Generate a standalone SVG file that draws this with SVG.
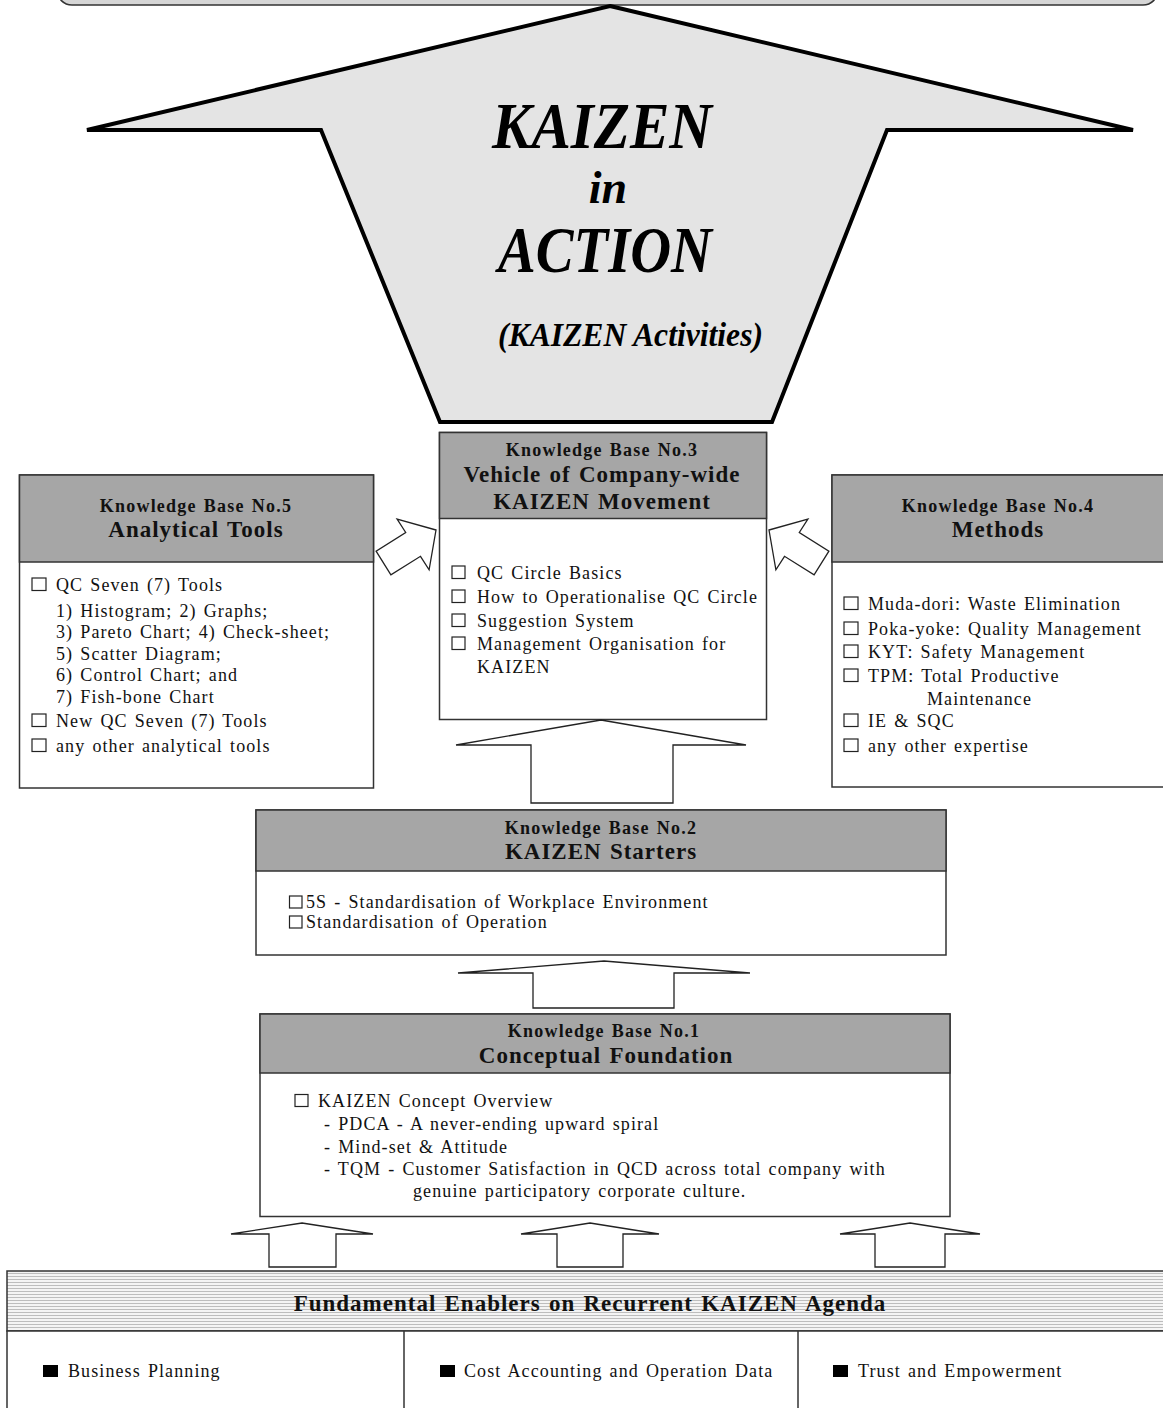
<svg xmlns="http://www.w3.org/2000/svg" width="1163" height="1408" viewBox="0 0 1163 1408">
<style>
.box{fill:#fff;stroke:#333;stroke-width:1.5}
.hdr{fill:#a6a6a6;stroke:#333;stroke-width:1.5}
.kb{font-family:"Liberation Serif","Times New Roman",serif;font-weight:bold;font-size:18px;letter-spacing:1.2px;word-spacing:1.5px;text-anchor:middle;fill:#111}
.ttl{font-family:"Liberation Serif","Times New Roman",serif;font-weight:bold;font-size:23px;letter-spacing:1px;word-spacing:1.5px;text-anchor:middle;fill:#111}
.t{font-family:"Liberation Serif","Times New Roman",serif;font-size:18px;letter-spacing:1.1px;word-spacing:1.5px;fill:#111}
.cb{fill:none;stroke:#222;stroke-width:1.2}
.fb{fill:#000}
.arr{fill:#fff;stroke:#222;stroke-width:1.3;stroke-linejoin:miter}
.big{font-family:"Liberation Serif","Times New Roman",serif;font-weight:bold;font-style:italic;fill:#000}
</style>
<defs>
<pattern id="stripes" width="8" height="3" patternUnits="userSpaceOnUse">
<rect width="8" height="3" fill="#f4f4f4"/>
<rect y="1" width="8" height="1" fill="#bdbdbd"/>
</pattern>
</defs>

<g id="top-banner">
<rect x="57" y="-30" width="1101" height="35" rx="15" fill="#d6d6d6" stroke="#333" stroke-width="1.5"/>
</g>

<g id="kaizen-in-action">
<polygon points="610,6 1133,130 887,130 772,422 440,422 321,130 87,130" fill="#e4e4e4" stroke="#000" stroke-width="4" stroke-linejoin="miter"/>
<text class="big" x="492" y="148" font-size="66" textLength="220" lengthAdjust="spacingAndGlyphs">KAIZEN</text>
<text class="big" x="608" y="203" font-size="46" text-anchor="middle">in</text>
<text class="big" x="498" y="272" font-size="66" textLength="214" lengthAdjust="spacingAndGlyphs">ACTION</text>
<text class="big" x="498" y="346" font-size="34" font-weight="normal" textLength="265" lengthAdjust="spacingAndGlyphs">(KAIZEN Activities)</text>
</g>

<g id="kb3">
<rect class="box" x="439.5" y="432.5" width="327" height="287"/>
<rect class="hdr" x="439.5" y="432.5" width="327" height="86"/>
<text class="kb" x="602" y="456">Knowledge Base No.3</text>
<text class="ttl" x="602" y="482">Vehicle of Company-wide</text>
<text class="ttl" x="602" y="509">KAIZEN Movement</text>
<rect class="cb" x="452" y="566" width="13" height="12.5"/>
<text class="t" x="477" y="579">QC Circle Basics</text>
<rect class="cb" x="452" y="590" width="13" height="12.5"/>
<text class="t" x="477" y="603">How to Operationalise QC Circle</text>
<rect class="cb" x="452" y="614" width="13" height="12.5"/>
<text class="t" x="477" y="627">Suggestion System</text>
<rect class="cb" x="452" y="637" width="13" height="12.5"/>
<text class="t" x="477" y="650">Management Organisation for</text>
<text class="t" x="477" y="673">KAIZEN</text>
</g>

<g id="kb5">
<rect class="box" x="19.5" y="475" width="354" height="313"/>
<rect class="hdr" x="19.5" y="475" width="354" height="87"/>
<text class="kb" x="196" y="512">Knowledge Base No.5</text>
<text class="ttl" x="196" y="537">Analytical Tools</text>
<rect class="cb" x="32" y="578" width="14" height="12.5"/>
<text class="t" x="56" y="591">QC Seven (7) Tools</text>
<text class="t" x="56" y="617">1) Histogram; 2) Graphs;</text>
<text class="t" x="56" y="638">3) Pareto Chart; 4) Check-sheet;</text>
<text class="t" x="56" y="660">5) Scatter Diagram;</text>
<text class="t" x="56" y="681">6) Control Chart; and</text>
<text class="t" x="56" y="703">7) Fish-bone Chart</text>
<rect class="cb" x="32" y="714" width="14" height="12.5"/>
<text class="t" x="56" y="727">New QC Seven (7) Tools</text>
<rect class="cb" x="32" y="739" width="14" height="12.5"/>
<text class="t" x="56" y="752">any other analytical tools</text>
</g>

<g id="kb4">
<rect class="box" x="832" y="475" width="340" height="312"/>
<rect class="hdr" x="832" y="475" width="340" height="87"/>
<text class="kb" x="998" y="512">Knowledge Base No.4</text>
<text class="ttl" x="998" y="537">Methods</text>
<rect class="cb" x="844" y="597" width="14" height="12.5"/>
<text class="t" x="868" y="610">Muda-dori: Waste Elimination</text>
<rect class="cb" x="844" y="622" width="14" height="12.5"/>
<text class="t" x="868" y="635">Poka-yoke: Quality Management</text>
<rect class="cb" x="844" y="645" width="14" height="12.5"/>
<text class="t" x="868" y="658">KYT:  Safety Management</text>
<rect class="cb" x="844" y="669" width="14" height="12.5"/>
<text class="t" x="868" y="682">TPM: Total Productive</text>
<text class="t" x="927" y="705">Maintenance</text>
<rect class="cb" x="844" y="714" width="14" height="12.5"/>
<text class="t" x="868" y="727">IE &amp; SQC</text>
<rect class="cb" x="844" y="739" width="14" height="12.5"/>
<text class="t" x="868" y="752">any other expertise</text>
</g>

<g id="kb2">
<rect class="box" x="256" y="810" width="690" height="145"/>
<rect class="hdr" x="256" y="810" width="690" height="61"/>
<text class="kb" x="601" y="834">Knowledge Base No.2</text>
<text class="ttl" x="601" y="859">KAIZEN Starters</text>
<rect class="cb" x="289.5" y="896" width="12.5" height="12"/>
<text class="t" x="306" y="908">5S - Standardisation of Workplace Environment</text>
<rect class="cb" x="289.5" y="916" width="12.5" height="12"/>
<text class="t" x="306" y="928">Standardisation of Operation</text>
</g>

<g id="kb1">
<rect class="box" x="260" y="1014" width="690" height="202.5"/>
<rect class="hdr" x="260" y="1014" width="690" height="59"/>
<text class="kb" x="604" y="1037">Knowledge Base No.1</text>
<text class="ttl" x="606" y="1063">Conceptual Foundation</text>
<rect class="cb" x="295" y="1094.5" width="13" height="12"/>
<text class="t" x="318" y="1107">KAIZEN  Concept Overview</text>
<text class="t" x="324" y="1130">-  PDCA - A never-ending upward  spiral</text>
<text class="t" x="324" y="1153">-  Mind-set &amp; Attitude</text>
<text class="t" x="324" y="1175">-  TQM  - Customer Satisfaction in QCD across total company with</text>
<text class="t" x="413" y="1197">genuine  participatory corporate culture.</text>
</g>

<g id="enablers">
<rect x="7" y="1271" width="1170" height="60" fill="url(#stripes)" stroke="#333" stroke-width="1.5"/>
<rect x="7" y="1331" width="1170" height="90" fill="#fff" stroke="#333" stroke-width="1.5"/>
<line x1="404" y1="1331" x2="404" y2="1408" stroke="#333" stroke-width="1.5"/>
<line x1="798" y1="1331" x2="798" y2="1408" stroke="#333" stroke-width="1.5"/>
<text class="ttl" x="590" y="1311" font-size="22" letter-spacing="1.2" word-spacing="7">Fundamental Enablers on Recurrent KAIZEN Agenda</text>
<rect class="fb" x="43" y="1365" width="15" height="12"/>
<text class="t" x="68" y="1377">Business Planning</text>
<rect class="fb" x="440" y="1365" width="15" height="12"/>
<text class="t" x="464" y="1377">Cost Accounting and Operation Data</text>
<rect class="fb" x="833" y="1365" width="15" height="12"/>
<text class="t" x="858" y="1377">Trust and Empowerment</text>
</g>

<g id="connectors">
<polygon class="arr" points="769,530 807.9,519 799.3,532.5 828.9,551.1 814.1,574.9 784.5,556.3 775.9,569.8"/>
<polygon class="arr" points="436,530 397.1,519 405.7,532.5 376.1,551.1 390.9,574.9 420.5,556.3 429.1,569.8"/>
<polygon class="arr" points="601,720 746,745 673,745 673,803 531,803 531,745 456,745"/>
<polygon class="arr" points="604,961 750,973 674,973 674,1008 533,1008 533,973 458,973"/>
<polygon class="arr" points="302,1223 373,1234 336,1234 336,1267 269,1267 269,1234 231,1234"/>
<polygon class="arr" points="590,1223 659,1234 623,1234 623,1267 557,1267 557,1234 521,1234"/>
<polygon class="arr" points="910,1223 980,1234 945,1234 945,1267 875,1267 875,1234 840,1234"/>
</g>
</svg>
